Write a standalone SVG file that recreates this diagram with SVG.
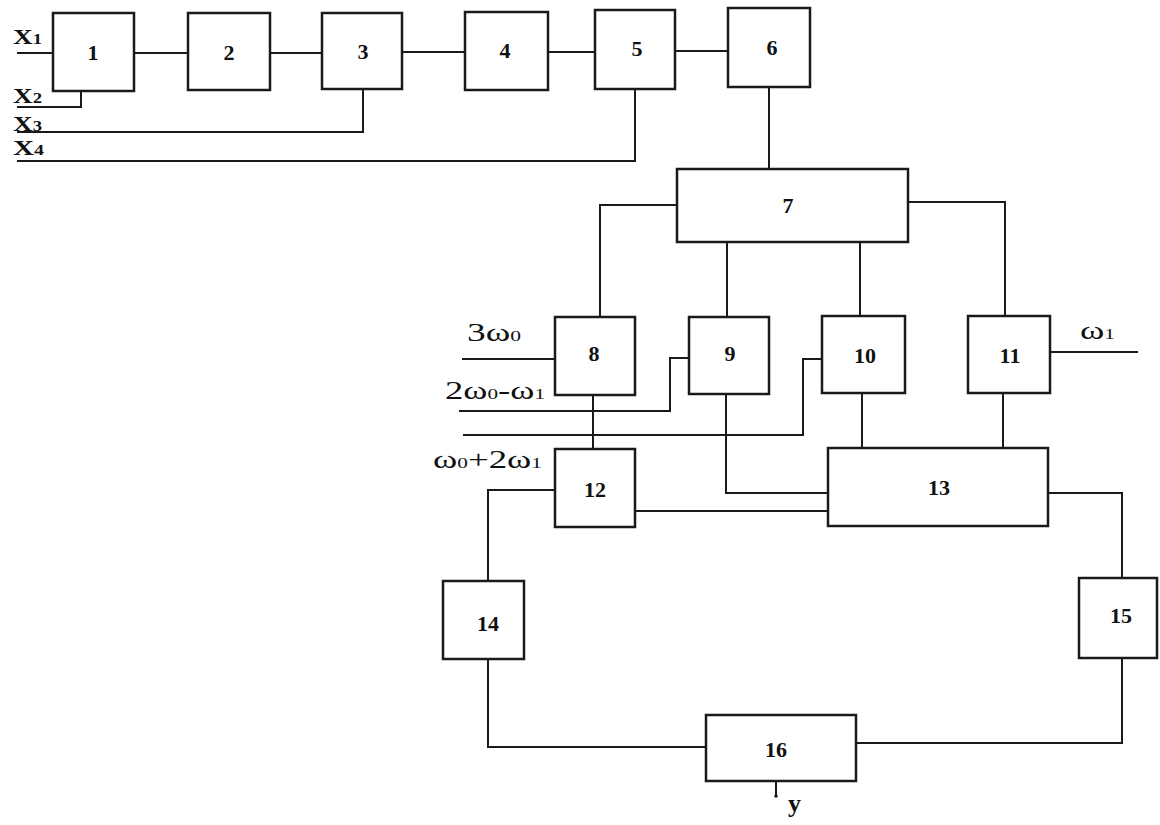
<svg xmlns="http://www.w3.org/2000/svg" width="1160" height="825" viewBox="0 0 1160 825">
<style>
.box{fill:#fff;stroke:#1a1a1a;stroke-width:2.5}
.num{font-family:"Liberation Serif",serif;font-weight:bold;font-size:22px;fill:#111;text-anchor:middle}
.xl{font-family:"Liberation Serif",serif;font-weight:bold;font-size:22px;fill:#111}
.wl{font-family:"Liberation Serif",serif;font-size:26px;fill:#111}
.sub{font-size:15px}
.conn path{fill:none;stroke:#1a1a1a;stroke-width:2}
</style>
<rect width="1160" height="825" fill="#fff"/>
<g class="conn" id="connectors">
<path d="M17,53 H53"/>
<path d="M134,53 H188"/>
<path d="M270,53 H322"/>
<path d="M402,52 H465"/>
<path d="M548,52 H595"/>
<path d="M675,51 H728"/>
<path d="M17,107 H81 V91"/>
<path d="M17,132 H363 V89"/>
<path d="M17,161 H635 V89"/>
<path d="M769,87 V169"/>
<path d="M677,205 H600 V317"/>
<path d="M727,242 V317"/>
<path d="M860,242 V316"/>
<path d="M908,202 H1005 V316"/>
<path d="M462,359 H555"/>
<path d="M459,411 H670 V358 H689"/>
<path d="M463,435 H803 V359 H822"/>
<path d="M1050,352 H1138"/>
<path d="M593,395 V449"/>
<path d="M726,394 V493 H828"/>
<path d="M862,393 V448"/>
<path d="M1003,393 V448"/>
<path d="M635,511 H828"/>
<path d="M555,490 H488 V581"/>
<path d="M1048,493 H1122 V578"/>
<path d="M488,659 V747 H706"/>
<path d="M1122,658 V743 H856"/>
<path d="M776,781 V795"/>
<circle cx="776" cy="796" r="1.8" fill="#1a1a1a"/>
</g>
<g id="node1"><rect class="box" x="53" y="13" width="81" height="78"/><text class="num" x="93" y="60">1</text></g>
<g id="node2"><rect class="box" x="188" y="13" width="82" height="77"/><text class="num" x="229" y="60">2</text></g>
<g id="node3"><rect class="box" x="322" y="13" width="80" height="76"/><text class="num" x="363" y="59">3</text></g>
<g id="node4"><rect class="box" x="465" y="12" width="83" height="78"/><text class="num" x="505" y="58">4</text></g>
<g id="node5"><rect class="box" x="595" y="10" width="80" height="79"/><text class="num" x="637" y="56">5</text></g>
<g id="node6"><rect class="box" x="728" y="8" width="82" height="79"/><text class="num" x="772" y="55">6</text></g>
<g id="node7"><rect class="box" x="677" y="169" width="231" height="73"/><text class="num" x="788" y="213">7</text></g>
<g id="node8"><rect class="box" x="555" y="317" width="80" height="78"/><text class="num" x="594" y="361">8</text></g>
<g id="node9"><rect class="box" x="689" y="317" width="80" height="77"/><text class="num" x="730" y="361">9</text></g>
<g id="node10"><rect class="box" x="822" y="316" width="83" height="77"/><text class="num" x="865" y="363">10</text></g>
<g id="node11"><rect class="box" x="968" y="316" width="82" height="77"/><text class="num" x="1010" y="363">11</text></g>
<g id="node12"><rect class="box" x="555" y="449" width="80" height="78"/><text class="num" x="595" y="497">12</text></g>
<g id="node13"><rect class="box" x="828" y="448" width="220" height="78"/><text class="num" x="939" y="495">13</text></g>
<g id="node14"><rect class="box" x="443" y="581" width="81" height="78"/><text class="num" x="488" y="631">14</text></g>
<g id="node15"><rect class="box" x="1079" y="578" width="78" height="80"/><text class="num" x="1121" y="623">15</text></g>
<g id="node16"><rect class="box" x="706" y="715" width="150" height="66"/><text class="num" x="776" y="757">16</text></g>
<g id="labels">
<text class="xl" x="13" y="44" textLength="29" lengthAdjust="spacingAndGlyphs">X<tspan class="sub">1</tspan></text>
<text class="xl" x="13" y="103" textLength="29" lengthAdjust="spacingAndGlyphs">X<tspan class="sub">2</tspan></text>
<text class="xl" x="13" y="131" textLength="29" lengthAdjust="spacingAndGlyphs">X<tspan class="sub">3</tspan></text>
<text class="xl" x="13" y="155" textLength="31" lengthAdjust="spacingAndGlyphs">X<tspan class="sub">4</tspan></text>
<text class="wl" x="467" y="341" textLength="54" lengthAdjust="spacingAndGlyphs">3ω<tspan class="sub">0</tspan></text>
<text class="wl" x="445" y="399" textLength="100" lengthAdjust="spacingAndGlyphs">2ω<tspan class="sub">0</tspan>-ω<tspan class="sub">1</tspan></text>
<text class="wl" x="433" y="468" textLength="109" lengthAdjust="spacingAndGlyphs">ω<tspan class="sub">0</tspan>+2ω<tspan class="sub">1</tspan></text>
<text class="wl" x="1080" y="339" textLength="35" lengthAdjust="spacingAndGlyphs">ω<tspan class="sub">1</tspan></text>
<text class="xl" x="788" y="812" style="font-size:26px">y</text>
</g>
</svg>
